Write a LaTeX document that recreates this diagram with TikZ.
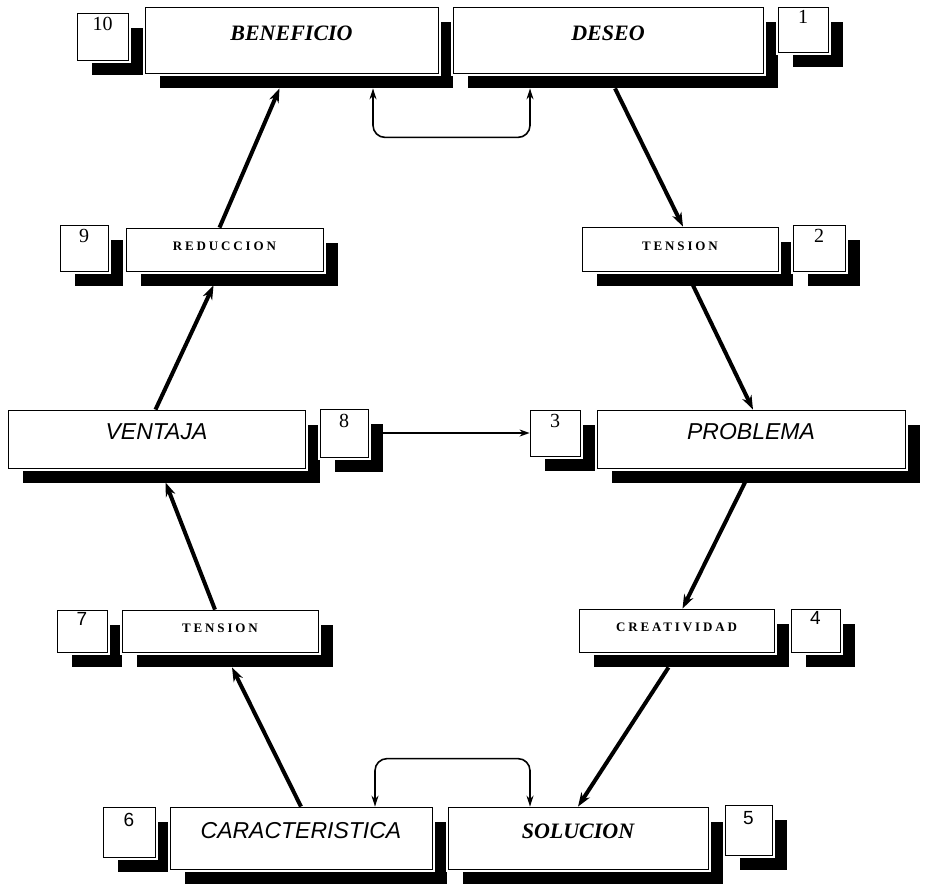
\documentclass[tikz,border=0pt]{standalone}
\usepackage{fontspec}
\setmainfont{Liberation Serif}
\newfontfamily\sansfam{Liberation Sans}
\newfontfamily\spacedfam[LetterSpace=22]{Liberation Serif}
\usetikzlibrary{shadows,arrows.meta}

\tikzset{
  boxbase/.style={draw=black, line width=0.8pt, fill=white, inner sep=0pt,
    general shadow={fill=black, shadow xshift=15pt, shadow yshift=-15pt},
    preaction={draw=white, line width=5pt}},
  bigbox/.style={boxbase, text height=15pt, text depth=14pt},
  serifbig/.style={bigbox, font=\fontsize{22}{25}\selectfont\bfseries\itshape},
  sansbig/.style={bigbox, font=\sansfam\fontsize{23}{26}\selectfont\itshape},
  smallbox/.style={boxbase, text height=8pt, text depth=6pt,
    font=\spacedfam\fontsize{13}{15}\selectfont\bfseries},
  numbox/.style={boxbase, text height=13pt, text depth=25pt,
    font=\fontsize{20}{22}\selectfont},
  numsans/.style={numbox, font=\sansfam\fontsize{19}{21}\selectfont},
  bigarrow/.style={line width=4pt, -{Stealth[length=14pt,width=10pt]}},
  thinarrow/.style={line width=1.6pt, -{Stealth[length=10pt,width=7pt]}},
  thinloop/.style={line width=1.6pt, rounded corners=12pt,
    {Stealth[length=11pt,width=7pt]}-{Stealth[length=11pt,width=7pt]}}
}

\begin{document}
\begin{tikzpicture}[x=1pt,y=1pt]
\useasboundingbox (0,0) rectangle (925,-884);

% row 1
\node[numbox, minimum width=51pt, minimum height=47pt] (n10) at (102.5,-36.5) {10};
\node[serifbig, minimum width=293pt, minimum height=66pt] (ben) at (291.5,-40) {BENEFICIO};
\node[serifbig, minimum width=310pt, minimum height=66pt] (des) at (608,-40) {DESEO};
\node[numbox, minimum width=50pt, minimum height=45pt] (n1) at (803,-29.5) {1};

% row 2
\node[numbox, minimum width=48pt, minimum height=46pt] (n9) at (84,-248) {9};
\node[smallbox, minimum width=197pt, minimum height=43pt] (red) at (224.5,-249.5) {REDUCCION};
\node[smallbox, minimum width=196pt, minimum height=44pt] (ten1) at (680,-249) {TENSION};
\node[numbox, minimum width=52pt, minimum height=46pt] (n2) at (819,-248) {2};

% row 3
\node[sansbig, minimum width=297pt, minimum height=58pt] (ven) at (156.5,-439) {VENTAJA};
\node[numbox, minimum width=48pt, minimum height=48pt] (n8) at (344,-433) {8};
\node[numbox, minimum width=50pt, minimum height=46pt] (n3) at (555,-433) {3};
\node[sansbig, minimum width=308pt, minimum height=58pt] (pro) at (751,-439) {PROBLEMA};

% row 4
\node[numsans, minimum width=50pt, minimum height=42pt] (n7) at (82,-631) {7};
\node[smallbox, minimum width=196pt, minimum height=42pt] (ten2) at (220,-631) {TENSION};
\node[smallbox, minimum width=195pt, minimum height=43pt] (cre) at (676.5,-630.5) {CREATIVIDAD};
\node[numsans, minimum width=49pt, minimum height=43pt] (n4) at (815.5,-630.5) {4};

% row 5
\node[numsans, minimum width=52pt, minimum height=50pt] (n6) at (129,-832) {6};
\node[sansbig, minimum width=262pt, minimum height=62pt] (car) at (301,-838) {CARACTERISTICA};
\node[serifbig, minimum width=260pt, minimum height=62pt] (sol) at (578,-838) {SOLUCION};
\node[numsans, minimum width=47pt, minimum height=50pt] (n5) at (748.5,-830) {5};

% main cycle
\draw[bigarrow] ([xshift=7pt,yshift=-15pt]des.south) -- ([xshift=3pt]ten1.north);
\draw[bigarrow] ([xshift=13pt,yshift=-14pt]ten1.south) -- ([xshift=2pt]pro.north);
\draw[bigarrow] ([xshift=-6pt,yshift=-14pt]pro.south) -- ([xshift=6pt]cre.north);
\draw[bigarrow] ([xshift=-8pt,yshift=-15pt]cre.south) -- (sol.north);
\draw[bigarrow] (car.north) -- ([xshift=12pt,yshift=-15pt]ten2.south);
\draw[bigarrow] ([xshift=-5pt]ten2.north) -- ([xshift=9pt,yshift=-14pt]ven.south);
\draw[bigarrow] ([xshift=-1pt]ven.north) -- ([xshift=-11pt,yshift=-14pt]red.south);
\draw[bigarrow] ([xshift=-5pt]red.north) -- ([xshift=-12pt,yshift=-15pt]ben.south);

% cross link and loops
\draw[thinarrow] ([xshift=15pt]n8.east) -- (n3.west);
\draw[thinloop] ([xshift=81.5pt,yshift=-15pt]ben.south) -- ([xshift=81.5pt,yshift=-64pt]ben.south)
  -- ([xshift=-78pt,yshift=-64pt]des.south) -- ([xshift=-78pt,yshift=-15pt]des.south);
\draw[thinloop] ([xshift=74pt]car.north) -- ([xshift=74pt,yshift=48pt]car.north)
  -- ([xshift=-48pt,yshift=48pt]sol.north) -- ([xshift=-48pt]sol.north);
\end{tikzpicture}
\end{document}
